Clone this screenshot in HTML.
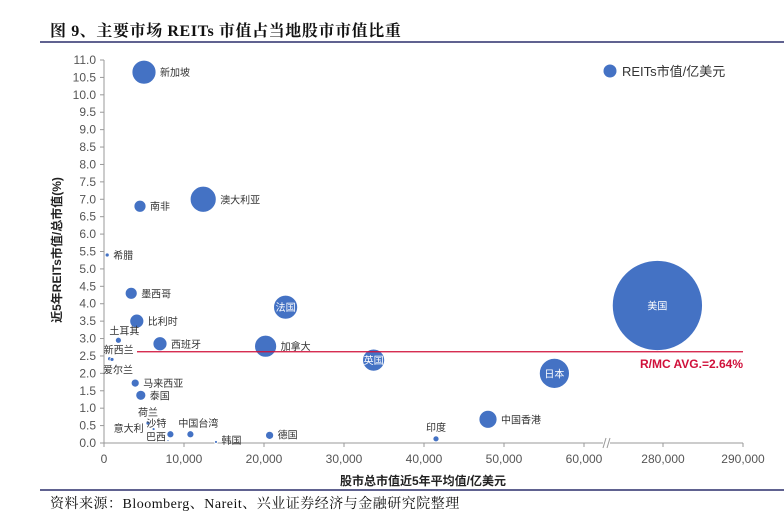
<!DOCTYPE html>
<html><head><meta charset="utf-8"><style>
body{margin:0;background:#fff;width:784px;height:524px;overflow:hidden;font-family:"Liberation Sans","Noto Sans CJK SC",sans-serif;}
svg text{font-family:"Liberation Sans","Noto Sans CJK SC",sans-serif;}
</style></head><body>
<svg id="chart" width="784" height="524" xmlns="http://www.w3.org/2000/svg">
<text x="50" y="36" font-size="16" font-weight="bold" fill="#111" letter-spacing="0.6" style="font-family:'Liberation Serif','Noto Serif CJK SC',serif">图 9、主要市场 REITs 市值占当地股市市值比重</text>
<line x1="40" y1="42" x2="784" y2="42" stroke="#2b2f6b" stroke-width="1.5"/>
<line x1="40" y1="490" x2="784" y2="490" stroke="#2b2f6b" stroke-width="1.5"/>
<text x="50" y="508" font-size="14" fill="#111" letter-spacing="0.5" style="font-family:'Liberation Serif','Noto Serif CJK SC',serif">资料来源：Bloomberg、Nareit、兴业证券经济与金融研究院整理</text>
<g id="axes"></g>
<g id="marks"></g>
<text x="0" y="0" font-size="12" font-weight="bold" fill="#222" text-anchor="middle" transform="translate(61,250) rotate(-90)">近5年REITs市值/总市值(%)</text>
<text x="423" y="485" font-size="12" font-weight="bold" fill="#222" text-anchor="middle">股市总市值近5年平均值/亿美元</text>
<circle cx="610" cy="71" r="6.5" fill="#4472c4"/>
<text x="622" y="76" font-size="13" fill="#333">REITs市值/亿美元</text>
</svg>
<script>
const categories=["新加坡","澳大利亚","南非","希腊","墨西哥","法国","美国","比利时","土耳其","西班牙","加拿大","新西兰","爱尔兰","英国","日本","马来西亚","泰国","中国香港","荷兰","意大利","巴西","沙特","中国台湾","韩国","德国","印度"];
const marketCap=[5000,12400,4500,400,3400,22700,279300,4100,1800,7000,20200,700,1000,33700,56300,3900,4600,48000,5500,6200,8000,8300,10800,14000,20700,41500];
const reitRatio=[10.65,7.0,6.8,5.4,4.3,3.9,3.95,3.5,2.95,2.85,2.78,2.42,2.4,2.38,2.0,1.72,1.37,0.68,0.57,0.4,0.07,0.25,0.25,0.03,0.22,0.12];
const reitCap=[923,1083,230,26,230,923,13000,314,58,314,775,26,26,775,1442,103,160,519,26,14,6,79,79,14,103,58];
const avgRatio=2.62;
const yTicks=[0,0.5,1,1.5,2,2.5,3,3.5,4,4.5,5,5.5,6,6.5,7,7.5,8,8.5,9,9.5,10,10.5,11];
const xTicks=[0,10000,20000,30000,40000,50000,60000,280000,290000];
const xTickLabels=["0","10,000","20,000","30,000","40,000","50,000","60,000","280,000","290,000"];
// label placement: [dx,dy,anchor,inside]
const labelPos=[[14,4,"start",0],[16,4,"start",0],[9,4,"start",0],[4,4,"start",0],[9,4,"start",0],[0,4,"middle",1],[0,4,"middle",1],[9,4,"start",0],[6,-5,"middle",0],[9,4,"start",0],[14,4,"start",0],[9,-5,"middle",0],[6,12,"middle",0],[0,4,"middle",1],[0,4,"middle",1],[8,4,"start",0],[8,4,"start",0],[12,4,"start",0],[0,-7,"middle",0],[-10,3,"end",0],[-12,0,"middle",0],[-14,-6,"middle",0],[8,-6,"middle",0],[5,2,"start",0],[7,3,"start",0],[0,-7,"middle",0]];
const NS="http://www.w3.org/2000/svg";
function xs(v){return v<=62500?104+v*0.008:663+(v-280000)*0.008;}
function ys(v){return 443-v*(383/11);}
function rs(c){return Math.sqrt(c)*0.395;}
function mk(tag,attrs,parent){const e=document.createElementNS(NS,tag);for(const k in attrs)e.setAttribute(k,attrs[k]);parent.appendChild(e);return e;}
const axes=document.getElementById('axes'),marks=document.getElementById('marks');
let l=mk('line',{x1:104,y1:60,x2:104,y2:443,stroke:'#999'},axes);


l=mk('line',{x1:104,y1:443,x2:743,y2:443,stroke:'#999'},axes);


yTicks.forEach(t=>{const y=ys(t);
 mk('line',{x1:100,y1:y,x2:104,y2:y,stroke:'#999'},axes);
 const tx=mk('text',{x:96,y:y+4,'font-size':12,fill:'#555','text-anchor':'end'},axes);tx.textContent=t.toFixed(1);
 
 });
xTicks.forEach((t,i)=>{const x=xs(t);
 mk('line',{x1:x,y1:443,x2:x,y2:447,stroke:'#999'},axes);
 const tx=mk('text',{x:x,y:463,'font-size':12,fill:'#555','text-anchor':'middle'},axes);tx.textContent=xTickLabels[i];
 
 });
const br=mk('g',{},axes);


mk('rect',{x:603,y:438,width:7,height:10,fill:'#fff'},br);
mk('line',{x1:603,y1:448,x2:606,y2:438,stroke:'#999'},br);
mk('line',{x1:607,y1:448,x2:610,y2:438,stroke:'#999'},br);
categories.forEach((c,i)=>{const cx=xs(marketCap[i]),cy=ys(reitRatio[i]),r=rs(reitCap[i]);
 const ci=mk('circle',{cx:cx,cy:cy,r:r,fill:'#4472c4',stroke:'#fff','stroke-width':0.8},marks);
 
 
 const p=labelPos[i];
 const tx=mk('text',{x:cx+(p[2]==='start'?r+4:p[0]),y:cy+(p[1]<0?-r+p[1]+2:(p[1]>5?r+p[1]:p[1])),'font-size':10,fill:p[3]?'#fff':'#333','text-anchor':p[2]},marks);
 tx.textContent=c;
 
 });
const ay=ys(avgRatio);
l=mk('line',{x1:137,y1:ay,x2:743,y2:ay,stroke:'#d0103a','stroke-width':1.2},marks);


const at=mk('text',{x:743,y:ay+16,'font-size':12,'font-weight':'bold',fill:'#d0103a','text-anchor':'end'},marks);
at.textContent='R/MC AVG.=2.64%';


</script>
</body></html>
